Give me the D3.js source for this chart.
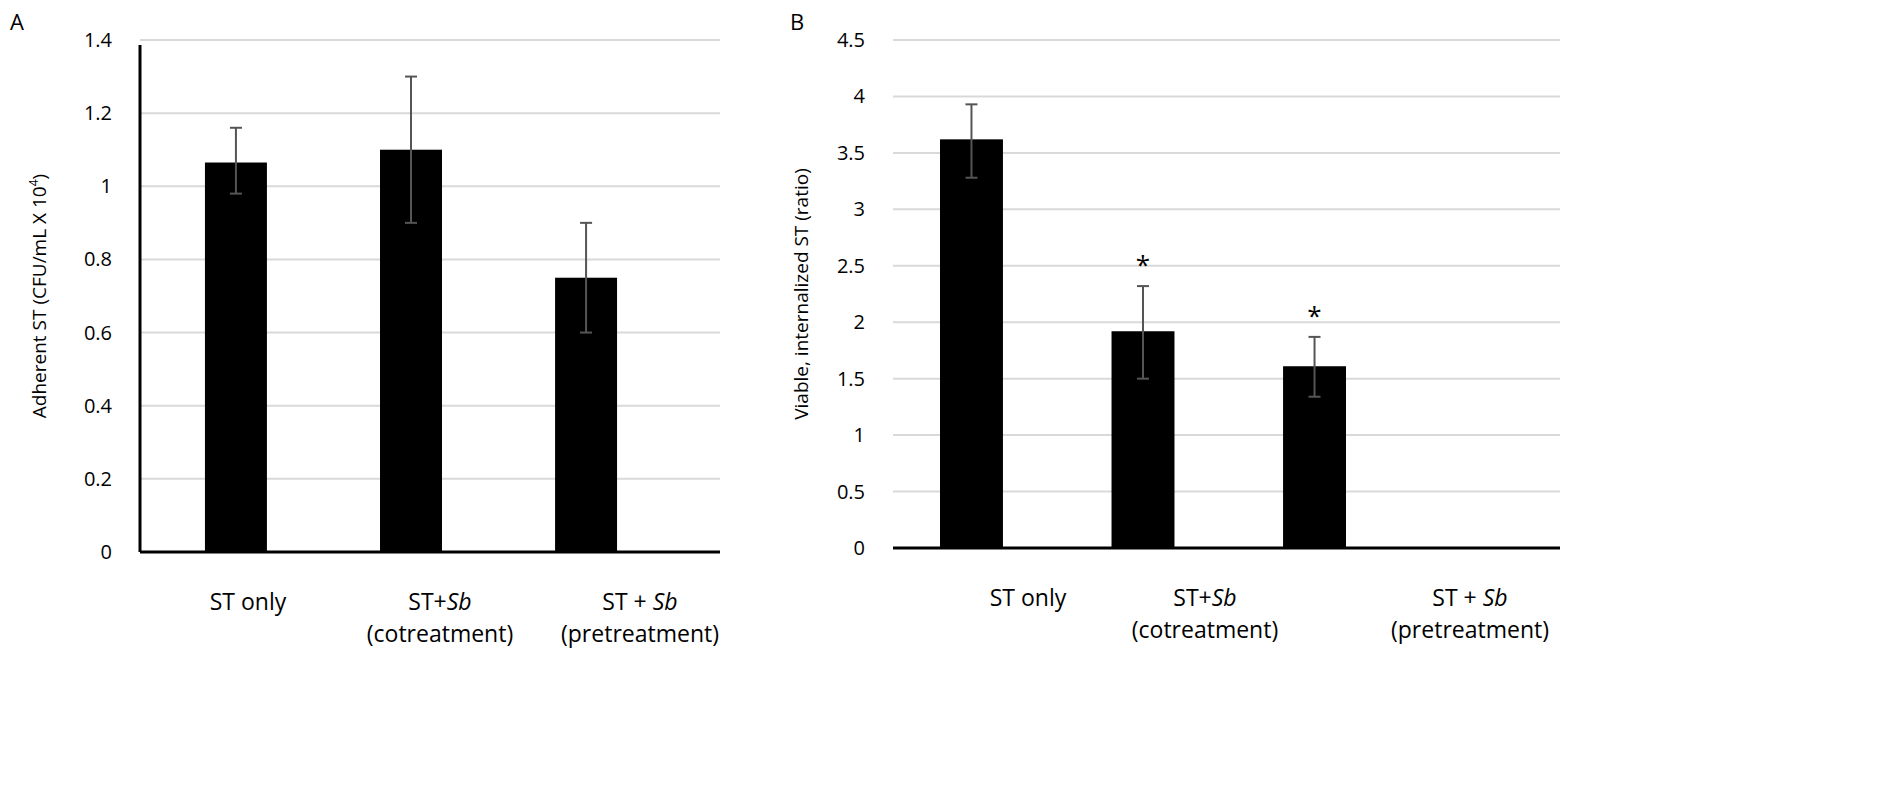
<!DOCTYPE html>
<html><head><meta charset="utf-8">
<script src="https://cdn.jsdelivr.net/npm/d3@7"></script>
<style>body{margin:0;background:#fff}text{font-family:"Open Sans","Noto Sans",sans-serif;fill:#000}</style>
</head><body><svg id="c" width="1886" height="791"></svg>
<script>
const groups = ["ST only", "ST+Sb (cotreatment)", "ST + Sb (pretreatment)"];
const adherent = [1.065, 1.10, 0.75];
const adherentErr = [[0.98, 1.16], [0.90, 1.30], [0.60, 0.90]];
const viable = [3.62, 1.92, 1.61];
const viableErr = [[3.28, 3.93], [1.50, 2.32], [1.34, 1.87]];
const viableSig = [false, true, true];
const ticksA = d3.range(0, 1.41, 0.2);
const ticksB = d3.range(0, 4.51, 0.5);

const svg = d3.select("#c");

function panel(o) {
  const g = svg.append("g");
  const y = d3.scaleLinear().domain([0, o.max]).range([o.y0, o.y1]);
  const x = d3.scaleBand().domain(groups).range([o.x0, o.x1]).paddingInner(o.pin).paddingOuter(o.pout);
  // label positions shifted right as in original
  const xl = d3.scaleOrdinal().domain(groups).range(o.labelX);
  g.selectAll("line.grid").data(o.ticks.slice(1)).join("line")
    .attr("x1", o.x0).attr("x2", o.gx1).attr("y1", y).attr("y2", y)
    .attr("stroke", "#d9d9d9").attr("stroke-width", 2);
  g.selectAll("text.tick").data(o.ticks).join("text")
    .attr("x", o.x0 - 28).attr("y", d => y(d) + 7).attr("text-anchor", "end")
    .attr("font-size", 20).text(d => d3.format("~g")(+d.toFixed(1)));
  if (o.leftAxis) g.append("line").attr("x1", o.x0).attr("x2", o.x0).attr("y1", y(o.max) + 5).attr("y2", o.y0)
    .attr("stroke", "#000").attr("stroke-width", 3);
  g.append("line").attr("x1", o.x0).attr("x2", o.gx1).attr("y1", o.y0).attr("y2", o.y0)
    .attr("stroke", "#000").attr("stroke-width", 3);
  g.selectAll("rect").data(o.vals).join("rect")
    .attr("x", (d, i) => x(groups[i])).attr("width", x.bandwidth())
    .attr("y", d => y(d)).attr("height", d => o.y0 - y(d)).attr("fill", "#000");
  o.err.forEach((e, i) => {
    const cx = x(groups[i]) + x.bandwidth() / 2;
    g.append("line").attr("x1", cx).attr("x2", cx).attr("y1", y(e[0])).attr("y2", y(e[1])).attr("stroke", "#555").attr("stroke-width", 2);
    [e[0], e[1]].forEach(v => g.append("line").attr("x1", cx - 6).attr("x2", cx + 6).attr("y1", y(v)).attr("y2", y(v)).attr("stroke", "#555").attr("stroke-width", 2));
    if (o.sig && o.sig[i]) g.append("text").attr("x", cx).attr("y", y(e[1]) - 12).attr("text-anchor", "middle").attr("font-size", 26).text("*");
  });
  groups.forEach(gr => {
    const parts = gr.match(/^(ST ?\+ ?)Sb \((.*)\)$/);
    const t = g.append("text").attr("x", xl(gr)).attr("y", o.y0 + 58).attr("text-anchor", "middle").attr("font-size", 23);
    if (!parts) { t.text(gr); return; }
    t.append("tspan").text(parts[1]);
    t.append("tspan").attr("font-style", "italic").text("Sb");
    g.append("text").attr("x", xl(gr)).attr("y", o.y0 + 90).attr("text-anchor", "middle").attr("font-size", 23).text("(" + parts[2] + ")");
  });
  g.append("text").attr("x", o.letterX).attr("y", 30).attr("font-size", 22).text(o.letter);
  const yt = g.append("text").attr("transform", `translate(${o.titleX},${(o.y0 + o.y1) / 2}) rotate(-90)`)
    .attr("text-anchor", "middle").attr("font-size", 19).text(o.title);
  if (o.sup) { yt.append("tspan").attr("baseline-shift", "super").attr("font-size", 12).text(o.sup); yt.append("tspan").text(")"); }
}

panel({ max: 1.4, ticks: ticksA, vals: adherent, err: adherentErr, y0: 552, y1: 40, x0: 140, x1: 682, gx1: 720,
  pin: 0.646, pout: 0.371,
  labelX: [248, 440, 640], leftAxis: true, letter: "A", letterX: 10, titleX: 46,
  title: "Adherent ST (CFU/mL X 10", sup: "4" });
panel({ max: 4.5, ticks: ticksB, vals: viable, err: viableErr, sig: viableSig, y0: 548, y1: 40, x0: 893, x1: 1393, gx1: 1560,
  pin: 0.633, pout: 0.274,
  labelX: [1028, 1205, 1470], leftAxis: false, letter: "B", letterX: 790, titleX: 808,
  title: "Viable, internalized ST (ratio)" });
</script></body></html>
